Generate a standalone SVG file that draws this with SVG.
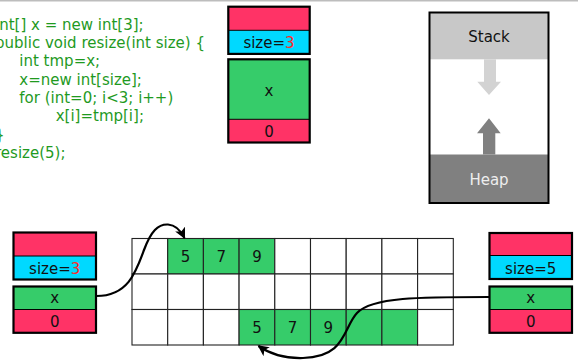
<svg xmlns="http://www.w3.org/2000/svg" width="578" height="360" viewBox="0 0 578 360">
  <defs>
    <style>
      text { font-family: "DejaVu Sans", Verdana, sans-serif; font-size: 15px; }
      .code { fill: #1f9a1f; }
      .lbl { fill: #111; text-anchor: middle; }
      .red { fill: #ff3366; }
      .cyan { fill: #00d9ff; }
      .green { fill: #36cc6a; }
      .frame { fill: none; stroke: #000; stroke-width: 2.2; }
      .div { stroke: #000; stroke-width: 1; }
      .cell { fill: #fff; stroke: #222; stroke-width: 1.1; }
      .gcell { fill: #36cc6a; stroke: #222; stroke-width: 1.1; }
      .wire { fill: none; stroke: #000; stroke-width: 2.2; marker-end: url(#head); }
    </style>
    <marker id="head" viewBox="0 0 10 10" refX="9" refY="5" markerWidth="5" markerHeight="5" orient="auto" markerUnits="strokeWidth">
      <path d="M0,0 L10,5 L0,10 L2.5,5 Z" fill="#000"/>
    </marker>
  </defs>

  <rect width="578" height="360" fill="#fff"/>
  <line x1="0" y1="0.8" x2="578" y2="0.8" stroke="#bdbdbd" stroke-width="1.5"/>

  <!-- source listing -->
  <g id="code">
    <text class="code" x="-5" y="29.5">int[] x = new int[3];</text>
    <text class="code" x="-5" y="47.8">public void resize(int size) {</text>
    <text class="code" x="19.3" y="66.2">int tmp=x;</text>
    <text class="code" x="19.3" y="84.5">x=new int[size];</text>
    <text class="code" x="19.3" y="102.8">for (int=0; i&lt;3; i++)</text>
    <text class="code" x="55.7" y="121.2">x[i]=tmp[i];</text>
    <text class="code" x="-5" y="139.5">}</text>
    <text class="code" x="-5" y="157.8">resize(5);</text>
  </g>

  <!-- stack frame of resize() -->
  <g id="frame-top">
    <rect class="red" x="228.3" y="6.7" width="81.4" height="23.6"/>
    <rect class="cyan" x="228.3" y="30.3" width="81.4" height="23.6"/>
    <line class="div" x1="228.3" y1="30.3" x2="309.7" y2="30.3"/>
    <rect class="frame" x="228.3" y="6.7" width="81.4" height="47.2"/>
    <text class="lbl" x="269" y="47.5">size=<tspan fill="#ff2a2a">3</tspan></text>
  </g>
  <g id="frame-main">
    <rect class="green" x="228.3" y="59.3" width="81.4" height="60"/>
    <rect class="red" x="228.3" y="119.3" width="81.4" height="23.2"/>
    <line class="div" x1="228.3" y1="119.3" x2="309.7" y2="119.3"/>
    <rect class="frame" x="228.3" y="59.3" width="81.4" height="83.2"/>
    <text class="lbl" x="269" y="95.5">x</text>
    <text class="lbl" x="269" y="136.5">0</text>
  </g>

  <!-- memory layout -->
  <g id="memory">
    <rect x="429.5" y="12.5" width="119" height="190.5" fill="#fff"/>
    <rect x="429.5" y="12.5" width="119" height="46.8" fill="#c8c8c8"/>
    <rect x="429.5" y="154.5" width="119" height="48.5" fill="#808080"/>
    <path d="M484,59.3 H496 V81.7 H501 L489,95 L477.3,81.7 H484 Z" fill="#d3d3d3"/>
    <path d="M483,154.5 H495.3 V133.3 H500.7 L489,118.3 L477,133.3 H483 Z" fill="#808080"/>
    <rect x="429.5" y="12.5" width="119" height="190.5" fill="none" stroke="#000" stroke-width="2"/>
    <text class="lbl" x="489" y="41.5">Stack</text>
    <text class="lbl" x="489" y="185" fill="#eeeeee" style="fill:#eeeeee">Heap</text>
  </g>

  <!-- caller frame before the call -->
  <g id="left-top">
    <rect class="red" x="13.5" y="232.5" width="82.5" height="23.5"/>
    <rect class="cyan" x="13.5" y="256" width="82.5" height="23.5"/>
    <line class="div" x1="13.5" y1="256" x2="96" y2="256"/>
    <rect class="frame" x="13.5" y="232.5" width="82.5" height="47"/>
    <text class="lbl" x="54.7" y="274">size=<tspan fill="#ff2a2a">3</tspan></text>
  </g>
  <g id="left-main">
    <rect class="green" x="13.5" y="286.5" width="82.5" height="23"/>
    <rect class="red" x="13.5" y="309.5" width="82.5" height="23.3"/>
    <line class="div" x1="13.5" y1="309.5" x2="96" y2="309.5"/>
    <rect class="frame" x="13.5" y="286.5" width="82.5" height="46.3"/>
    <text class="lbl" x="54.7" y="303.3">x</text>
    <text class="lbl" x="54.7" y="327.3">0</text>
  </g>

  <!-- heap cells -->
  <g id="heap">
    <g id="row1">
      <rect class="cell" x="132" y="238.5" width="35.7" height="35.5"/>
      <rect class="gcell" x="167.7" y="238.5" width="35.7" height="35.5"/>
      <rect class="gcell" x="203.4" y="238.5" width="35.7" height="35.5"/>
      <rect class="gcell" x="239.1" y="238.5" width="35.7" height="35.5"/>
      <rect class="cell" x="274.8" y="238.5" width="35.7" height="35.5"/>
      <rect class="cell" x="310.5" y="238.5" width="35.7" height="35.5"/>
      <rect class="cell" x="346.2" y="238.5" width="35.7" height="35.5"/>
      <rect class="cell" x="381.9" y="238.5" width="35.7" height="35.5"/>
      <rect class="cell" x="417.6" y="238.5" width="35.7" height="35.5"/>
      <text class="lbl" x="185.5" y="262">5</text>
      <text class="lbl" x="221.2" y="262">7</text>
      <text class="lbl" x="256.9" y="262">9</text>
    </g>
    <g id="row2">
      <rect class="cell" x="132" y="274" width="35.7" height="35.5"/>
      <rect class="cell" x="167.7" y="274" width="35.7" height="35.5"/>
      <rect class="cell" x="203.4" y="274" width="35.7" height="35.5"/>
      <rect class="cell" x="239.1" y="274" width="35.7" height="35.5"/>
      <rect class="cell" x="274.8" y="274" width="35.7" height="35.5"/>
      <rect class="cell" x="310.5" y="274" width="35.7" height="35.5"/>
      <rect class="cell" x="346.2" y="274" width="35.7" height="35.5"/>
      <rect class="cell" x="381.9" y="274" width="35.7" height="35.5"/>
      <rect class="cell" x="417.6" y="274" width="35.7" height="35.5"/>
    </g>
    <g id="row3">
      <rect class="cell" x="132" y="309.5" width="35.7" height="35.5"/>
      <rect class="cell" x="167.7" y="309.5" width="35.7" height="35.5"/>
      <rect class="cell" x="203.4" y="309.5" width="35.7" height="35.5"/>
      <rect class="gcell" x="239.1" y="309.5" width="35.7" height="35.5"/>
      <rect class="gcell" x="274.8" y="309.5" width="35.7" height="35.5"/>
      <rect class="gcell" x="310.5" y="309.5" width="35.7" height="35.5"/>
      <rect class="gcell" x="346.2" y="309.5" width="35.7" height="35.5"/>
      <rect class="gcell" x="381.9" y="309.5" width="35.7" height="35.5"/>
      <rect class="cell" x="417.6" y="309.5" width="35.7" height="35.5"/>
      <text class="lbl" x="256.9" y="333">5</text>
      <text class="lbl" x="292.6" y="333">7</text>
      <text class="lbl" x="328.3" y="333">9</text>
    </g>
  </g>

  <!-- caller frame after the call -->
  <g id="right-top">
    <rect class="red" x="489.5" y="233" width="82.5" height="22.5"/>
    <rect class="cyan" x="489.5" y="255.5" width="82.5" height="23.5"/>
    <line class="div" x1="489.5" y1="255.5" x2="572" y2="255.5"/>
    <rect class="frame" x="489.5" y="233" width="82.5" height="46"/>
    <text class="lbl" x="530.7" y="273.5">size=5</text>
  </g>
  <g id="right-main">
    <rect class="green" x="489.5" y="286.5" width="82.5" height="23"/>
    <rect class="red" x="489.5" y="309.5" width="82.5" height="23.3"/>
    <line class="div" x1="489.5" y1="309.5" x2="572" y2="309.5"/>
    <rect class="frame" x="489.5" y="286.5" width="82.5" height="46.3"/>
    <text class="lbl" x="530.7" y="303.3">x</text>
    <text class="lbl" x="530.7" y="327.3">0</text>
  </g>

  <!-- references -->
  <g id="connectors">
    <path class="wire" d="M96.5,296 C128,296 136,272 144,250 C151,231 158,224 168,224.5 C176,225 181,231 184.5,238"/>
    <path class="wire" d="M489,297 C420,297 372,297 357,313 C343,328 346,357 303,358 C285,358.5 270,354 258.5,346"/>
  </g>
</svg>
